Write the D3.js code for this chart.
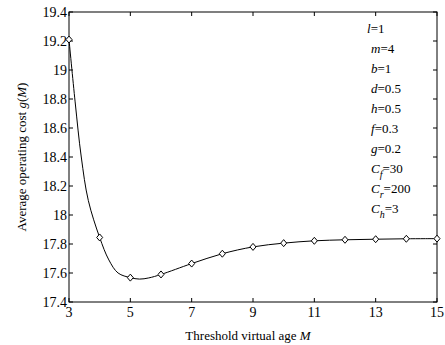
<!DOCTYPE html>
<html>
<head>
<meta charset="utf-8">
<script src="https://cdn.jsdelivr.net/npm/d3@7"></script>
<style>
body { margin: 0; background: #fff; }
text { font-family: "Liberation Serif", "DejaVu Serif", serif; fill: #000; }
</style>
</head>
<body>
<svg width="445" height="345"></svg>
<script>
// markers at integer threshold ages
const markerM = [3, 4, 5, 6, 7, 8, 9, 10, 11, 12, 13, 14, 15];
const markerG = [19.21, 17.845, 17.568, 17.59, 17.665, 17.733, 17.78, 17.806, 17.822, 17.829, 17.833, 17.836, 17.837];

// the smooth line (includes in-between points)
const curveM = [3, 3.2, 3.4, 3.63, 4, 4.3, 4.6, 5, 5.3, 5.6, 6, 7, 8, 9, 10, 11, 12, 13, 14, 15];
const curveG = [19.21, 18.78, 18.40, 18.10, 17.845, 17.69, 17.60, 17.568, 17.558, 17.566, 17.59, 17.665, 17.733, 17.78, 17.806, 17.822, 17.829, 17.833, 17.836, 17.837];

const xTicks = [3, 5, 7, 9, 11, 13, 15];
const yTicks = [17.4, 17.6, 17.8, 18, 18.2, 18.4, 18.6, 18.8, 19, 19.2, 19.4];

const params = [
  ["l", "", "=1"], ["m", "", "=4"], ["b", "", "=1"], ["d", "", "=0.5"], ["h", "", "=0.5"],
  ["f", "", "=0.3"], ["g", "", "=0.2"], ["C", "f", "=30"], ["C", "r", "=200"], ["C", "h", "=3"]
];

let svg = d3.select("svg");
let pLeft = 69, pRight = 437, pTop = 12, pBottom = 302;

let x = d3.scaleLinear().domain([3, 15]).range([pLeft, pRight]);
let y = d3.scaleLinear().domain([17.4, 19.4]).range([pBottom, pTop]);

// frame
svg.append("rect")
  .attr("x", pLeft).attr("y", pTop)
  .attr("width", pRight - pLeft).attr("height", pBottom - pTop)
  .attr("fill", "none").attr("stroke", "#000").attr("stroke-width", 1);

// inward ticks on all sides
let tl = 4;
xTicks.forEach(t => {
  svg.append("line").attr("x1", x(t)).attr("x2", x(t)).attr("y1", pBottom).attr("y2", pBottom - tl).attr("stroke", "#000");
  svg.append("line").attr("x1", x(t)).attr("x2", x(t)).attr("y1", pTop).attr("y2", pTop + tl).attr("stroke", "#000");
  svg.append("text").attr("x", x(t)).attr("y", 317)
    .attr("text-anchor", "middle").style("font-size", "14px").text(t);
});
yTicks.forEach(t => {
  svg.append("line").attr("x1", pLeft).attr("x2", pLeft + tl).attr("y1", y(t)).attr("y2", y(t)).attr("stroke", "#000");
  svg.append("line").attr("x1", pRight).attr("x2", pRight - tl).attr("y1", y(t)).attr("y2", y(t)).attr("stroke", "#000");
  svg.append("text").attr("x", 67).attr("y", y(t)).attr("dy", "0.35em")
    .attr("text-anchor", "end").style("font-size", "14px").text(t);
});

// curve
let line = d3.line()
  .x((d, i) => x(curveM[i]))
  .y(d => y(d))
  .curve(d3.curveCatmullRom.alpha(0.5));
svg.append("path")
  .attr("d", line(curveG))
  .attr("fill", "none").attr("stroke", "#000").attr("stroke-width", 1);

// diamond markers
svg.selectAll(".mk").data(markerG).enter().append("path")
  .attr("class", "mk")
  .attr("d", (d, i) => {
    let cx = x(markerM[i]), cy = y(d);
    return `M${cx},${cy - 3.5}L${cx + 3},${cy}L${cx},${cy + 3.5}L${cx - 3},${cy}Z`;
  })
  .attr("fill", "#fff").attr("stroke", "#000").attr("stroke-width", 1);

// axis titles
let xt = svg.append("text").attr("x", 248).attr("y", 340)
  .attr("text-anchor", "middle").style("font-size", "13px");
xt.append("tspan").text("Threshold virtual age ");
xt.append("tspan").style("font-style", "italic").text("M");

let yt = svg.append("text")
  .attr("transform", "translate(26,157) rotate(-90)")
  .attr("text-anchor", "middle").style("font-size", "13px");
yt.append("tspan").text("Average operating cost  ");
yt.append("tspan").style("font-style", "italic").text("g");
yt.append("tspan").text("(");
yt.append("tspan").style("font-style", "italic").text("M");
yt.append("tspan").text(")");

// parameter list
params.forEach((p, i) => {
  let t = svg.append("text").attr("x", p[0] === "l" ? 367 : 371).attr("y", 33 + i * 20)
    .style("font-size", "13px");
  t.append("tspan").style("font-style", "italic").text(p[0]);
  if (p[1]) t.append("tspan").attr("dy", 5).style("font-style", "italic").style("font-size", "10px").text(p[1]);
  t.append("tspan").attr("dy", p[1] ? -5 : 0).text(p[2]);
});
</script>
</body>
</html>
